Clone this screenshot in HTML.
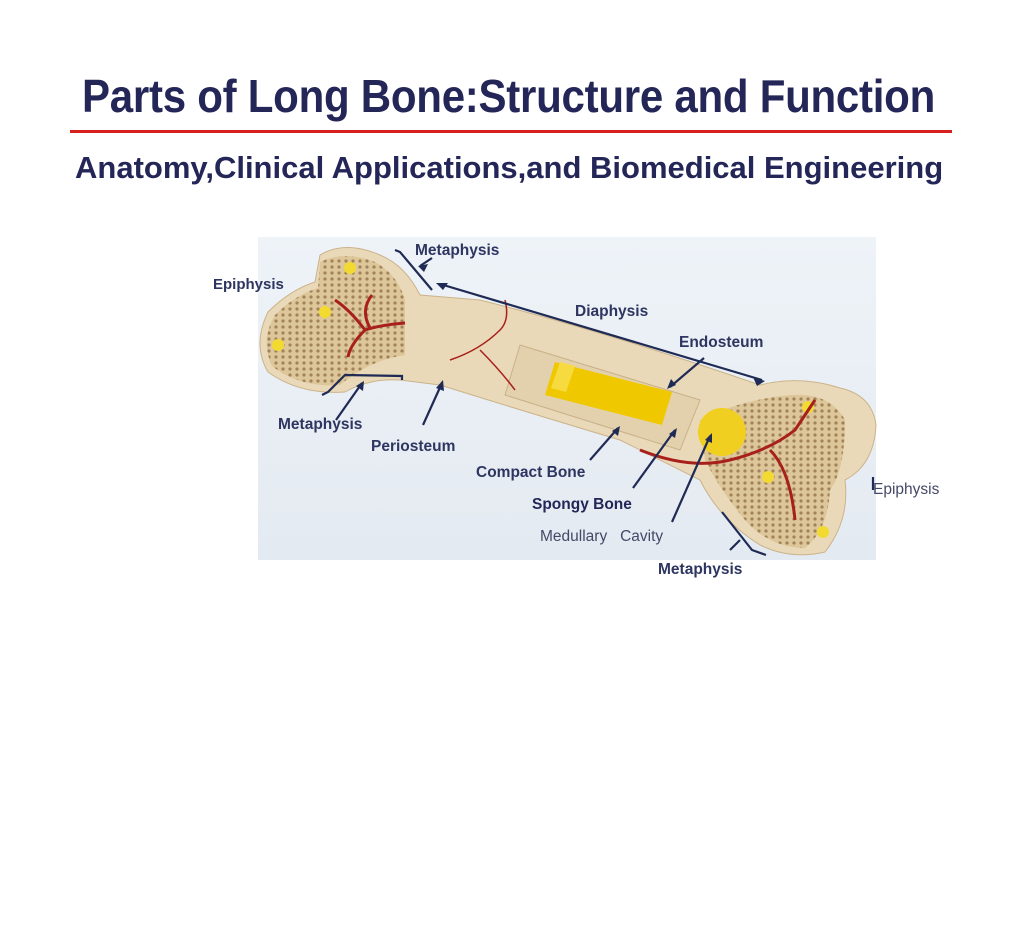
<!DOCTYPE html>
<html><head><meta charset="utf-8"><style>
body{margin:0;width:1024px;height:927px;background:#fff;position:relative;font-family:"Liberation Sans",sans-serif;overflow:hidden}
.t{position:absolute;white-space:nowrap;color:#232657;font-weight:bold}
</style></head><body>
<div class="t" style="left:82px;top:69px;font-size:46px;letter-spacing:-0.3px;transform:scaleX(0.914);transform-origin:0 0">Parts of Long Bone:Structure and Function</div>
<div style="position:absolute;left:70px;top:130px;width:882px;height:3px;background:#d8211f"></div>
<div class="t" style="left:75px;top:150px;font-size:31px;letter-spacing:0px">Anatomy,Clinical Applications,and Biomedical Engineering</div>
<svg style="position:absolute;left:0;top:0" width="1024" height="927">
<defs>
<linearGradient id="bg" x1="0" y1="0" x2="0" y2="1"><stop offset="0" stop-color="#eef3f8"/><stop offset="1" stop-color="#e4eaf1"/></linearGradient>
<pattern id="sp" width="7" height="6" patternUnits="userSpaceOnUse"><rect width="7" height="6" fill="#d9bf8f"/><circle cx="3" cy="3" r="1.6" fill="#8a6638"/></pattern>
</defs>
<rect x="258" y="237" width="618" height="323" fill="url(#bg)"/>
<path d="M320,255 Q345,240 380,255 Q405,265 420,295 L480,300 Q600,330 760,385 Q800,375 840,388 Q872,395 876,425 Q874,465 845,480 Q850,520 825,552 Q790,560 760,545 Q720,520 700,480 Q660,460 620,440 Q520,410 440,385 L400,380 Q370,378 345,392 Q300,395 268,372 Q252,345 268,312 Q290,290 315,282 Z" fill="#ead9b8" stroke="#cbb38a" stroke-width="1"/>
<path d="M320,262 Q345,250 375,262 Q398,275 405,300 L405,355 Q370,360 340,385 Q300,388 272,366 Q260,340 275,315 Q295,295 318,288 Z" fill="url(#sp)" opacity="0.75"/>
<path d="M700,420 Q740,400 790,395 Q830,392 845,420 Q845,470 830,490 Q828,530 805,548 Q770,548 745,520 Q720,490 705,460 Z" fill="url(#sp)" opacity="0.75"/>
<path d="M520,345 L700,400 L680,450 L505,395 Z" fill="#e3d1ad" stroke="#c9b088"/>
<path d="M555,362 L672,392 L662,425 L545,395 Z" fill="#f0c800"/>
<path d="M560,362 L575,366 L566,392 L551,388 Z" fill="#f7d940"/>
<circle cx="722" cy="432" r="24" fill="#f0cf20"/>
<g fill="#f2da30"><circle cx="350" cy="268" r="6"/><circle cx="325" cy="312" r="6"/><circle cx="278" cy="345" r="6"/><circle cx="768" cy="477" r="6"/><circle cx="823" cy="532" r="6"/><circle cx="808" cy="407" r="6"/></g>
<g stroke="#a8201c" stroke-width="3" fill="none">
<path d="M405,323 Q380,325 365,330 Q350,345 348,357"/><path d="M365,330 Q350,310 335,300"/><path d="M370,328 Q360,310 372,295"/>
<path d="M640,450 Q690,470 730,460 Q770,450 795,430 Q805,415 815,400"/><path d="M770,450 Q790,470 795,520"/>
</g>
<g stroke="#a8201c" stroke-width="1.5" fill="none"><path d="M450,360 Q480,350 500,330 Q510,320 505,300"/><path d="M480,350 Q500,370 515,390"/></g>
<g stroke="#1f2a55" stroke-width="2.2" fill="none">
<path d="M395,250 L400,252 L432,290"/><path d="M432,258 L420,266"/>
<path d="M440,284 L762,380"/>
<path d="M322,395 L328,392 L345,375 L402,376 L402,380"/>
<path d="M336,420 L362,383"/><path d="M423,425 L442,383"/>
<path d="M704,358 L670,387"/><path d="M590,460 L618,428"/><path d="M633,488 L675,430"/><path d="M672,522 L710,436"/>
<path d="M722,512 L752,550 L766,555"/><path d="M740,540 L730,550"/>
<path d="M873,477 L873,490"/>
</g>
<g fill="#1f2a55"><path d="M418,266 l10,-2 l-4,8z"/><path d="M436,283 l12,0 l-5,7z"/><path d="M765,381 l-12,-4 l4,9z"/><path d="M364,381 l-1,10 l-7,-5z"/><path d="M443,380 l1,11 l-8,-3z"/><path d="M667,389 l4,-10 l5,6z"/><path d="M620,426 l-2,10 l-6,-5z"/><path d="M677,428 l-2,10 l-6,-4z"/><path d="M712,433 l0,10 l-7,-3z"/></g>
</svg>
<div class="t" style="left:415px;top:242px;font-size:15.5px;color:#2d3560">Metaphysis</div>
<div class="t" style="left:213px;top:276px;font-size:15px;color:#2d3560">Epiphysis</div>
<div class="t" style="left:575px;top:303px;font-size:15.5px;color:#2d3560">Diaphysis</div>
<div class="t" style="left:679px;top:334px;font-size:15.5px;color:#2d3560">Endosteum</div>
<div class="t" style="left:278px;top:416px;font-size:15.5px;color:#2d3560">Metaphysis</div>
<div class="t" style="left:371px;top:438px;font-size:15.5px;color:#2d3560">Periosteum</div>
<div class="t" style="left:476px;top:464px;font-size:15.5px;color:#2d3560">Compact Bone</div>
<div class="t" style="left:532px;top:496px;font-size:15.5px;color:#232657">Spongy Bone</div>
<div class="t" style="left:540px;top:528px;font-size:15.5px;color:#444a66;font-weight:normal">Medullary&nbsp;&nbsp;&nbsp;Cavity</div>
<div class="t" style="left:873px;top:481px;font-size:15.5px;color:#444a66;font-weight:normal">Epiphysis</div>
<div class="t" style="left:658px;top:561px;font-size:15.5px;color:#2d3560">Metaphysis</div>
</body></html>
